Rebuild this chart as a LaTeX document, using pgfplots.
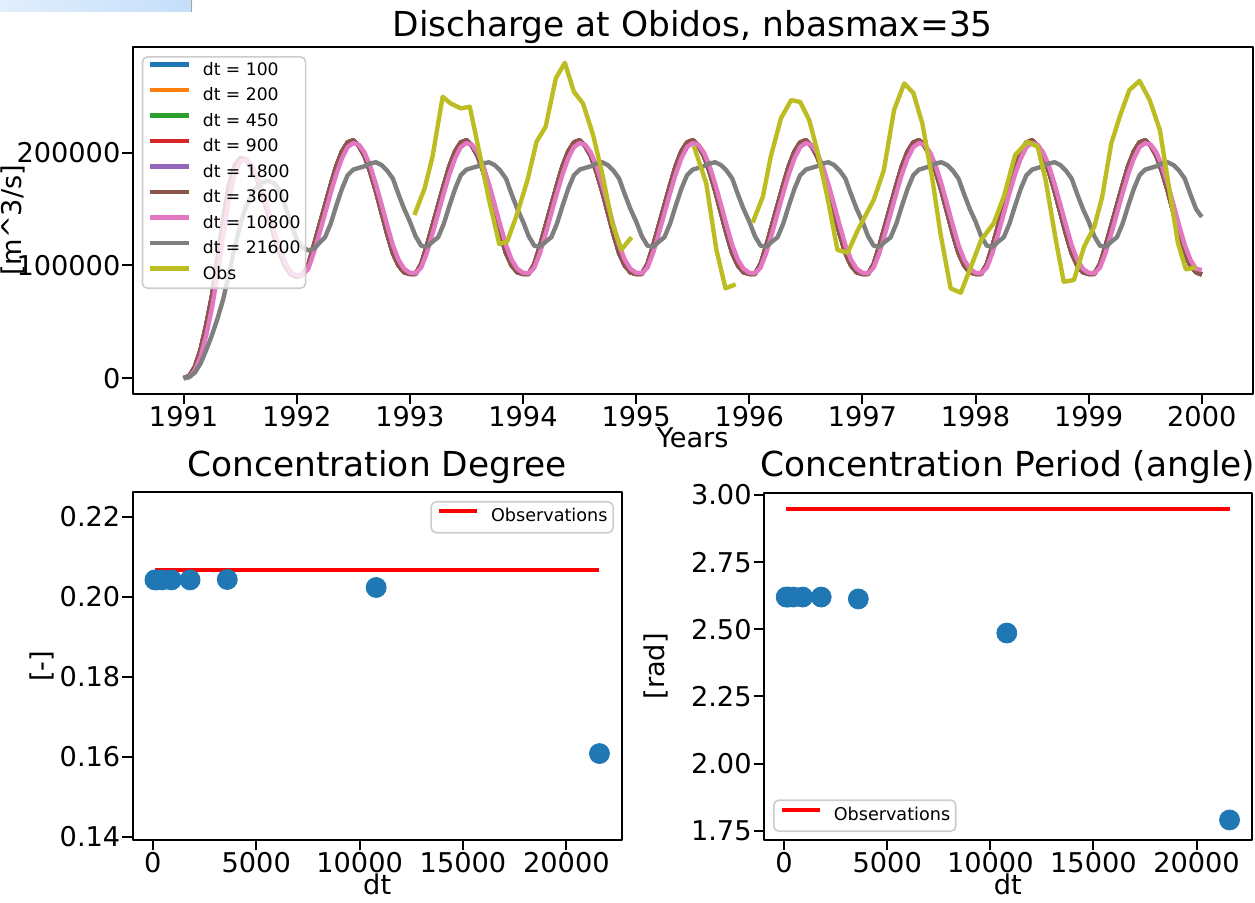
\documentclass[border=0pt]{standalone}
\usepackage{fontspec}
\setmainfont{DejaVu Sans}
\usepackage{pgfplots}
\pgfplotsset{compat=1.18}
\usepackage{pgfplotstable}

\definecolor{C0}{HTML}{1F77B4}
\definecolor{C1}{HTML}{FF7F0E}
\definecolor{C2}{HTML}{2CA02C}
\definecolor{C3}{HTML}{D62728}
\definecolor{C4}{HTML}{9467BD}
\definecolor{C5}{HTML}{8C564B}
\definecolor{C6}{HTML}{E377C2}
\definecolor{C7}{HTML}{7F7F7F}
\definecolor{C8}{HTML}{BCBD22}
\definecolor{legframe}{HTML}{CCCCCC}

% simulated discharge: b = dt 100..3600 (overlapping), p = dt 10800, g = dt 21600
\pgfplotstableread{
t b p g
1991.00 0 0 0
1991.05 2000 1000 1000
1991.10 10000 7000 5000
1991.15 25000 19000 13000
1991.20 47000 38000 25000
1991.25 72000 62000 38000
1991.30 105000 92000 53000
1991.35 140000 126000 70000
1991.40 170000 158000 92000
1991.45 188000 181000 115000
1991.50 195000 192000 136000
1991.55 194000 194000 152000
1991.60 187000 189000 163000
1991.65 177000 179000 170000
1991.70 162000 165000 174000
1991.75 145000 149000 175000
1991.80 127000 131000 173000
1991.85 111000 115000 166000
1991.90 99000 102000 152000
1991.95 92000 94000 136000
1992.00 90000 91000 123000
1992.05 91500 92000 116000
1992.10 99500 96500 113500
1992.15 117000 111000 114500
1992.20 135000 128000 120000
1992.25 153000 146000 125000
1992.30 171000 164000 137000
1992.35 188000 181000 153000
1992.40 201000 195000 168000
1992.45 209000 205000 180000
1992.50 211000 208500 185000
1992.55 206000 207000 186500
1992.60 197000 200000 188000
1992.65 183000 188000 190500
1992.70 166000 172000 191500
1992.75 147000 154000 189000
1992.80 128000 135500 184000
1992.85 111000 118000 177000
1992.90 100000 105000 163000
1992.95 94000 97000 150000
1993.00 92500 93500 139000
1993.05 92500 93000 126000
1993.10 101000 98000 117500
1993.15 117000 111000 116500
1993.20 135000 128000 121000
1993.25 153000 146000 125000
1993.30 171000 164000 137000
1993.35 188000 181000 153000
1993.40 201000 195000 168000
1993.45 209000 205000 180000
1993.50 211000 208500 185000
1993.55 206000 207000 186500
1993.60 197000 200000 188000
1993.65 183000 188000 190500
1993.70 166000 172000 191500
1993.75 147000 154000 189000
1993.80 128000 135500 184000
1993.85 111000 118000 177000
1993.90 100000 105000 163000
1993.95 94000 97000 150000
1994.00 92500 93500 139000
1994.05 92500 93000 126000
1994.10 101000 98000 117500
1994.15 117000 111000 116500
1994.20 135000 128000 121000
1994.25 153000 146000 125000
1994.30 171000 164000 137000
1994.35 188000 181000 153000
1994.40 201000 195000 168000
1994.45 209000 205000 180000
1994.50 211000 208500 185000
1994.55 206000 207000 186500
1994.60 197000 200000 188000
1994.65 183000 188000 190500
1994.70 166000 172000 191500
1994.75 147000 154000 189000
1994.80 128000 135500 184000
1994.85 111000 118000 177000
1994.90 100000 105000 163000
1994.95 94000 97000 150000
1995.00 92500 93500 139000
1995.05 92500 93000 126000
1995.10 101000 98000 117500
1995.15 117000 111000 116500
1995.20 135000 128000 121000
1995.25 153000 146000 125000
1995.30 171000 164000 137000
1995.35 188000 181000 153000
1995.40 201000 195000 168000
1995.45 209000 205000 180000
1995.50 211000 208500 185000
1995.55 206000 207000 186500
1995.60 197000 200000 188000
1995.65 183000 188000 190500
1995.70 166000 172000 191500
1995.75 147000 154000 189000
1995.80 128000 135500 184000
1995.85 111000 118000 177000
1995.90 100000 105000 163000
1995.95 94000 97000 150000
1996.00 92500 93500 139000
1996.05 92500 93000 126000
1996.10 101000 98000 117500
1996.15 117000 111000 116500
1996.20 135000 128000 121000
1996.25 153000 146000 125000
1996.30 171000 164000 137000
1996.35 188000 181000 153000
1996.40 201000 195000 168000
1996.45 209000 205000 180000
1996.50 211000 208500 185000
1996.55 206000 207000 186500
1996.60 197000 200000 188000
1996.65 183000 188000 190500
1996.70 166000 172000 191500
1996.75 147000 154000 189000
1996.80 128000 135500 184000
1996.85 111000 118000 177000
1996.90 100000 105000 163000
1996.95 94000 97000 150000
1997.00 92500 93500 139000
1997.05 92500 93000 126000
1997.10 101000 98000 117500
1997.15 117000 111000 116500
1997.20 135000 128000 121000
1997.25 153000 146000 125000
1997.30 171000 164000 137000
1997.35 188000 181000 153000
1997.40 201000 195000 168000
1997.45 209000 205000 180000
1997.50 211000 208500 185000
1997.55 206000 207000 186500
1997.60 197000 200000 188000
1997.65 183000 188000 190500
1997.70 166000 172000 191500
1997.75 147000 154000 189000
1997.80 128000 135500 184000
1997.85 111000 118000 177000
1997.90 100000 105000 163000
1997.95 94000 97000 150000
1998.00 92500 93500 139000
1998.05 92500 93000 126000
1998.10 101000 98000 117500
1998.15 117000 111000 116500
1998.20 135000 128000 121000
1998.25 153000 146000 125000
1998.30 171000 164000 137000
1998.35 188000 181000 153000
1998.40 201000 195000 168000
1998.45 209000 205000 180000
1998.50 211000 208500 185000
1998.55 206000 207000 186500
1998.60 197000 200000 188000
1998.65 183000 188000 190500
1998.70 166000 172000 191500
1998.75 147000 154000 189000
1998.80 128000 135500 184000
1998.85 111000 118000 177000
1998.90 100000 105000 163000
1998.95 94000 97000 150000
1999.00 92500 93500 139000
1999.05 92500 93000 126000
1999.10 101000 98000 117500
1999.15 117000 111000 116500
1999.20 135000 128000 121000
1999.25 153000 146000 125000
1999.30 171000 164000 137000
1999.35 188000 181000 153000
1999.40 201000 195000 168000
1999.45 209000 205000 180000
1999.50 211000 208500 185000
1999.55 206000 207000 186500
1999.60 197000 200000 188000
1999.65 183000 188000 190500
1999.70 166000 172000 191500
1999.75 147000 154000 189000
1999.80 128000 135500 184000
1999.85 111000 118000 177000
1999.90 100000 105000 163000
1999.95 94000 97000 150000
2000.00 92000 96000 143000
}\simtab

\pgfplotstableread{
t q
1993.04 144700
1993.13 168300
1993.20 196400
1993.29 249600
1993.36 243700
1993.45 239300
1993.53 240700
1993.61 202300
1993.70 158000
1993.79 119000
1993.86 121000
1993.95 146200
1994.04 175700
1994.12 209700
1994.20 223000
1994.29 265900
1994.37 279700
1994.45 254000
1994.53 243700
1994.62 215600
1994.70 181600
1994.79 137300
1994.87 114000
1994.96 125000
1995.20 nan
1995.51 206000
1995.62 172800
1995.71 113700
1995.79 79700
1995.88 83200
1995.95 nan
1996.03 137900
1996.12 160900
1996.19 196400
1996.28 230400
1996.37 246600
1996.45 245000
1996.53 228900
1996.60 202300
1996.69 160900
1996.78 113700
1996.87 111300
1996.96 131400
1997.10 158000
1997.19 184600
1997.28 237800
1997.37 261400
1997.45 253100
1997.53 226000
1997.62 175700
1997.69 128500
1997.78 79700
1997.87 75800
1997.96 98900
1998.05 122500
1998.16 137300
1998.25 160900
1998.35 197900
1998.46 209700
1998.55 205200
1998.62 175700
1998.71 122500
1998.78 85500
1998.87 87100
1998.96 116600
1999.05 134300
1999.12 160900
1999.20 208200
1999.28 233400
1999.36 255500
1999.45 263700
1999.54 246600
1999.63 220000
1999.70 175700
1999.79 119600
1999.86 96500
1999.95 98300
}\obstab

\pgfplotstableread{
dt deg ang
100 0.2042 2.620
200 0.2042 2.620
450 0.2042 2.620
900 0.2042 2.620
1800 0.2042 2.620
3600 0.2043 2.613
10800 0.2023 2.486
21600 0.1608 1.790
}\conctab

\pgfplotsset{
  every axis title shift=0pt,
  every axis/.append style={
    scale only axis,
    axis line style={line width=1pt},
    tick align=outside,
    major tick length=5.2pt,
    every tick/.style={black,line width=1pt},
    xtick pos=left, ytick pos=left,
    tick label style={font=\fontsize{13.6}{16}\selectfont},
    xticklabel style={inner ysep=1pt},
    yticklabel style={inner xsep=0.8pt},
    label style={font=\fontsize{13.6}{16}\selectfont},
    title style={font=\fontsize{17.2}{20}\selectfont},
    /pgf/number format/assume math mode=true,
    scaled ticks=false,
    line join=round,
  },
}

\begin{document}
\begin{tikzpicture}
\useasboundingbox (0pt,0pt) rectangle (627.5pt,451.5pt);
\shade[left color={rgb,255:red,226;green,239;blue,252}, right color={rgb,255:red,196;green,222;blue,250}]
  (0pt,445.5pt) rectangle (96pt,451.5pt);
\draw[gray!70, line width=0.7pt] (95.8pt,445.5pt) -- (95.8pt,451.5pt);

% ---------------- top panel ----------------
\begin{axis}[
  at={(66.35pt,254.5pt)}, anchor=south west,
  width=560pt, height=173.65pt,
  xmin=1990.55, xmax=2000.45, ymin=-14000, ymax=294000,
  xtick={1991,1992,1993,1994,1995,1996,1997,1998,1999,2000},
  xticklabels={1991,1992,1993,1994,1995,1996,1997,1998,1999,2000},
  ytick={0,100000,200000}, yticklabels={0,100000,200000},
  title={Discharge at Obidos, nbasmax=35},
  title style={at={(axis description cs:0.5,1.0288)}, anchor=base},
  xlabel={Years},
  xlabel style={at={(axis description cs:0.5,-0.1555)}, anchor=base},
  ylabel={[m\textasciicircum 3/s]},
  ylabel style={at={(axis description cs:-0.0997,0.5)}, anchor=base},
  legend cell align=left,
  legend image code/.code={\draw[#1] (0pt,3pt) -- (19.5pt,3pt);},
  legend style={at={(axis description cs:0.008,0.973)}, anchor=north west,
    font=\fontsize{8.6}{10}\selectfont, draw=legframe, line width=0.8pt,
    fill=white, fill opacity=0.8, draw opacity=1, text opacity=1,
    rounded corners=2.5pt, inner xsep=2.5pt, inner ysep=2.8pt,
    row sep=4.65pt, column sep=6pt,
    nodes={inner sep=0pt, text height=6.3pt, text depth=1.7pt}},
  every axis plot/.append style={line width=2.2pt},
]
\addplot[C0] table[x=t,y=b] {\simtab}; \addlegendentry{dt = 100}
\addplot[C1] table[x=t,y=b] {\simtab}; \addlegendentry{dt = 200}
\addplot[C2] table[x=t,y=b] {\simtab}; \addlegendentry{dt = 450}
\addplot[C3] table[x=t,y=b] {\simtab}; \addlegendentry{dt = 900}
\addplot[C4] table[x=t,y=b] {\simtab}; \addlegendentry{dt = 1800}
\addplot[C5] table[x=t,y=b] {\simtab}; \addlegendentry{dt = 3600}
\addplot[C6] table[x=t,y=p] {\simtab}; \addlegendentry{dt = 10800}
\addplot[C7] table[x=t,y=g] {\simtab}; \addlegendentry{dt = 21600}
\addplot[C8, unbounded coords=jump] table[x=t,y=q] {\obstab}; \addlegendentry{Obs}
\end{axis}

% ---------------- bottom left ----------------
\begin{axis}[
  at={(66.35pt,31.5pt)}, anchor=south west,
  width=244.5pt, height=173.85pt,
  xmin=-975, xmax=22675, ymin=0.1392, ymax=0.2261,
  xtick={0,5000,10000,15000,20000}, xticklabels={0,5000,10000,15000,20000},
  ytick={0.14,0.16,0.18,0.20,0.22}, yticklabels={0.14,0.16,0.18,0.20,0.22},
  title={Concentration Degree},
  title style={at={(axis description cs:0.5,1.0454)}, anchor=base},
  xlabel={dt},
  xlabel style={at={(axis description cs:0.5,-0.158)}, anchor=base},
  ylabel={[-]},
  ylabel style={at={(axis description cs:-0.169,0.5)}, anchor=base},
  legend cell align=left,
  legend image code/.code={\draw[#1] (0pt,3pt) -- (19pt,3pt);},
  legend style={at={(axis description cs:0.984,0.975)}, anchor=north east,
    font=\fontsize{8.8}{10}\selectfont, draw=legframe, line width=0.8pt,
    fill=white, fill opacity=0.8, draw opacity=1, text opacity=1,
    rounded corners=2.5pt, inner xsep=2.8pt, inner ysep=3.6pt,
    column sep=6pt,
    nodes={inner sep=0pt, text height=6.5pt, text depth=1.8pt}},
]
\addplot[only marks, mark=*, mark size=5pt, color=C0, forget plot] table[x=dt,y=deg] {\conctab};
\addplot[red, line width=2.2pt] coordinates {(100,0.2067) (21600,0.2067)};
\addlegendentry{Observations}
\end{axis}

% ---------------- bottom right ----------------
\begin{axis}[
  at={(382pt,31.5pt)}, anchor=south west,
  width=243.85pt, height=173.65pt,
  xmin=-975, xmax=22675, ymin=1.7154, ymax=3.0086,
  xtick={0,5000,10000,15000,20000}, xticklabels={0,5000,10000,15000,20000},
  ytick={1.75,2.00,2.25,2.50,2.75,3.00}, yticklabels={1.75,2.00,2.25,2.50,2.75,3.00},
  title={Concentration Period (angle)},
  title style={at={(axis description cs:0.5,1.0454)}, anchor=base},
  xlabel={dt},
  xlabel style={at={(axis description cs:0.5,-0.158)}, anchor=base},
  ylabel={[rad]},
  ylabel style={at={(axis description cs:-0.205,0.5)}, anchor=base},
  legend cell align=left,
  legend image code/.code={\draw[#1] (0pt,3pt) -- (19pt,3pt);},
  legend style={at={(axis description cs:0.0185,0.023)}, anchor=south west,
    font=\fontsize{8.8}{10}\selectfont, draw=legframe, line width=0.8pt,
    fill=white, fill opacity=0.8, draw opacity=1, text opacity=1,
    rounded corners=2.5pt, inner xsep=2.8pt, inner ysep=3.6pt,
    column sep=6pt,
    nodes={inner sep=0pt, text height=6.5pt, text depth=1.8pt}},
]
\addplot[only marks, mark=*, mark size=5pt, color=C0, forget plot] table[x=dt,y=ang] {\conctab};
\addplot[red, line width=2.2pt] coordinates {(100,2.947) (21600,2.947)};
\addlegendentry{Observations}
\end{axis}
\end{tikzpicture}
\end{document}
